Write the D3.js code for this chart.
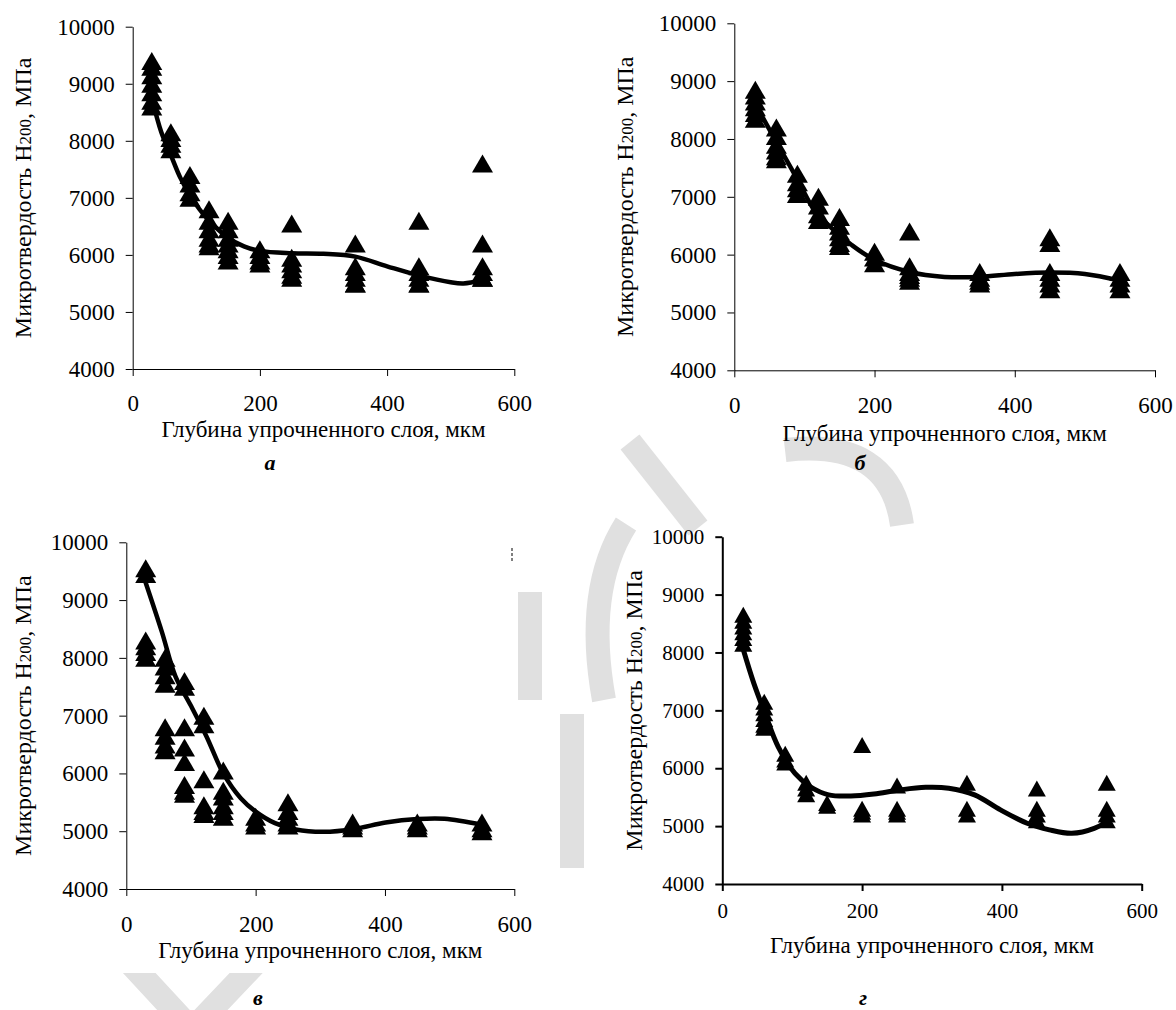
<!DOCTYPE html>
<html>
<head>
<meta charset="utf-8">
<script src="https://cdn.jsdelivr.net/npm/d3@7"></script>
<style>
  body { margin: 0; background: #fff; }
  svg { display: block; }
  text { font-family: "Liberation Serif", "Times New Roman", serif; fill: #000; }
</style>
</head>
<body>
<div id="chart"></div>
<script>
// depth of measurement, mkm
const depths = [30, 60, 90, 120, 150, 200, 250, 350, 450, 550];

// microhardness readings per depth, MPa (one list per depth)
const hardnessA = [
  [9400, 9300, 9150, 9000, 8850, 8700, 8600],
  [8150, 8050, 7950, 7850],
  [7400, 7250, 7100, 7000],
  [6800, 6600, 6450, 6300, 6200, 6150],
  [6600, 6450, 6300, 6200, 6100, 6000, 5900],
  [6100, 6000, 5900, 5850],
  [6550, 5950, 5850, 5750, 5650, 5600],
  [6200, 5800, 5700, 5600, 5500, 5500],
  [6600, 5800, 5700, 5600, 5500, 5500],
  [7600, 6200, 5800, 5700, 5600, 5600]
];
const hardnessB = [
  [8850, 8750, 8650, 8550, 8450, 8350],
  [8200, 8050, 7900, 7800, 7700, 7650],
  [7400, 7250, 7150, 7050],
  [7000, 6850, 6700, 6600],
  [6650, 6500, 6400, 6300, 6200, 6150],
  [6050, 5950, 5850],
  [6400, 5800, 5700, 5650, 5600, 5550],
  [5700, 5600, 5550, 5500],
  [6300, 6200, 5700, 5600, 5500, 5400],
  [5700, 5600, 5500, 5400]
];
const hardnessC = [
  [9550, 9450, 8300, 8200, 8100, 8000],
  [8000, 7850, 7700, 7550, 6800, 6650, 6500, 6400],
  [7600, 7500, 6800, 6450, 6200, 5800, 5700, 5650],
  [7000, 6850, 5900, 5450, 5350, 5300],
  [6050, 5700, 5600, 5450, 5350, 5250],
  [5250, 5150, 5100],
  [5500, 5350, 5250, 5150, 5100],
  [5150, 5100, 5050],
  [5150, 5100, 5050],
  [5150, 5050, 5000]
];
const hardnessD = [
  [8650, 8550, 8450, 8350, 8250, 8150],
  [7150, 7050, 6950, 6850, 6750, 6700],
  [6250, 6150, 6100],
  [5750, 5650, 5550],
  [5400, 5350],
  [6400, 5300, 5250, 5200],
  [5700, 5300, 5250, 5200],
  [5750, 5300, 5200],
  [5650, 5300, 5200, 5100],
  [5750, 5300, 5200, 5100]
];

// trend lines: [depth, MPa]
const trendA = [[30, 8750], [45, 8150], [60, 7750], [75, 7350], [90, 7050], [105, 6800], [120, 6600],
  [150, 6300], [175, 6150], [200, 6070], [250, 6030], [300, 6020], [350, 5970], [400, 5800],
  [450, 5640], [500, 5520], [520, 5500], [550, 5560]];
const trendB = [[30, 8600], [60, 7950], [90, 7300], [115, 6750], [135, 6500], [167, 6170], [200, 5910],
  [250, 5700], [300, 5615], [350, 5615], [400, 5665], [450, 5690], [500, 5665], [550, 5550]];
const trendC = [[30, 9300], [55, 8450], [76, 7680], [100, 7170], [124, 6640], [150, 6000], [177, 5570],
  [200, 5340], [230, 5140], [262, 5030], [305, 4990], [353, 5040], [401, 5150], [450, 5210],
  [492, 5215], [550, 5110]];
const trendD = [[30, 8050], [45, 7470], [61, 6950], [80, 6370], [104, 5910], [126, 5680], [152, 5540],
  [184, 5520], [217, 5555], [254, 5625], [291, 5670], [324, 5655], [361, 5540], [398, 5280],
  [436, 5050], [468, 4935], [500, 4875], [532, 4960], [550, 5080]];

const yTicks = [4000, 5000, 6000, 7000, 8000, 9000, 10000];
const xTicks = [0, 200, 400, 600];
const panelLetters = ["а", "б", "в", "г"];
const xTitle = "Глубина упрочненного слоя, мкм";

const W = 1176, H = 1010;
const SERIF = '"Liberation Serif", "Times New Roman", serif';
const svg = d3.select("#chart").append("svg")
  .attr("width", W)
  .attr("height", H);

// faint grey watermark of the scanned page, showing between the charts
const wm = svg.append("g")
  .attr("fill", "none")
  .attr("stroke", "#e0e0e0")
  .attr("stroke-width", 24);
wm.append("clipPath").attr("id", "wmclip")
  .append("rect").attr("x", 0).attr("y", 973).attr("width", 400).attr("height", 40);
wm.append("path")
  .attr("clip-path", "url(#wmclip)")
  .attr("d", "M118,950L192,1030L268,950");
wm.append("path").attr("d", "M630,442L698,528");
wm.append("path").attr("d", "M785,450Q890,438 902,525");
wm.append("path").attr("d", "M626,524Q584,590 604,700");
wm.append("path").attr("d", "M530,592L530,700");
wm.append("path").attr("d", "M572,714L572,868");
svg.append("path")
  .attr("d", "M512,548L512,562")
  .attr("stroke", "#555")
  .attr("stroke-width", 1.5)
  .attr("stroke-dasharray", "3,2");

// placement of each of the four sub-charts
const panels = [
  {values: hardnessA, trend: trendA, letter: panelLetters[0],
   left: 132.7, right: 514.3, top: 26.7, bottom: 369, yTitleX: 23, xPad: 19, xTitleY: 437,
   letterX: 270, letterY: 470, font: 23, triW: 21, triH: 18, lineW: 4.5, axisW: 1},
  {values: hardnessB, trend: trendB, letter: panelLetters[1],
   left: 734.3, right: 1155, top: 23.3, bottom: 370.3, yTitleX: 625, xPad: 19, xTitleY: 441,
   letterX: 860, letterY: 470, font: 23, triW: 21, triH: 18, lineW: 4.5, axisW: 1},
  {values: hardnessC, trend: trendC, letter: panelLetters[2],
   left: 126.3, right: 514.3, top: 542.3, bottom: 889, yTitleX: 23, xPad: 20, xTitleY: 958,
   letterX: 258, letterY: 1005, font: 23, triW: 21, triH: 18, lineW: 4.5, axisW: 1},
  {values: hardnessD, trend: trendD, letter: panelLetters[3],
   left: 722.3, right: 1141.7, top: 536.7, bottom: 884, yTitleX: 634, xPad: 12, xTitleY: 953,
   letterX: 863, letterY: 1005, font: 21, triW: 18, triH: 16, lineW: 5, axisW: 2}
];

const triangle = (w, h) => `M0,${-h / 2}L${w / 2},${h / 2}L${-w / 2},${h / 2}Z`;

panels.forEach(p => {
  const x = d3.scaleLinear().domain([0, 600]).range([p.left, p.right]);
  const y = d3.scaleLinear().domain([4000, 10000]).range([p.bottom, p.top]);
  const g = svg.append("g");

  const yAxis = g.append("g")
    .attr("transform", `translate(${p.left},0)`)
    .call(d3.axisLeft(y).tickValues(yTicks).tickFormat(d3.format("d"))
      .tickSize(7).tickPadding(11).tickSizeOuter(0));
  const xAxis = g.append("g")
    .attr("transform", `translate(0,${p.bottom})`)
    .call(d3.axisBottom(x).tickValues(xTicks).tickFormat(d3.format("d"))
      .tickSize(7).tickPadding(p.xPad).tickSizeOuter(0));

  [yAxis, xAxis].forEach(a => {
    a.attr("font-family", SERIF).attr("font-size", p.font);
    a.select(".domain").attr("stroke", "#000").attr("stroke-width", p.axisW);
    a.selectAll(".tick line").attr("stroke", "#000").attr("stroke-width", p.axisW);
    a.selectAll(".tick text").attr("fill", "#000");
  });

  const pts = [];
  depths.forEach((d, i) => p.values[i].forEach(v => pts.push([d, v])));

  g.selectAll("path.mark")
    .data(pts)
    .enter()
    .append("path")
    .attr("class", "mark")
    .attr("d", triangle(p.triW, p.triH))
    .attr("transform", d => `translate(${x(d[0])},${y(d[1])})`)
    .attr("fill", "#000");

  const line = d3.line()
    .x(d => x(d[0]))
    .y(d => y(d[1]))
    .curve(d3.curveCatmullRom.alpha(0.5));

  g.append("path")
    .datum(p.trend)
    .attr("d", line)
    .attr("fill", "none")
    .attr("stroke", "#000")
    .attr("stroke-width", p.lineW)
    .attr("stroke-linecap", "round");

  const midY = (p.top + p.bottom) / 2;
  const yt = g.append("text")
    .attr("transform", `translate(${p.yTitleX},${midY}) rotate(-90)`)
    .attr("text-anchor", "middle")
    .attr("dy", "0.35em")
    .attr("font-family", SERIF)
    .attr("font-size", 24);
  yt.append("tspan").text("Микротвердость Н");
  yt.append("tspan").attr("font-size", 17).text("200");
  yt.append("tspan").text(", МПа");

  g.append("text")
    .attr("x", (p.left + p.right) / 2)
    .attr("y", p.xTitleY)
    .attr("text-anchor", "middle")
    .attr("font-family", SERIF)
    .attr("font-size", 23)
    .text(xTitle);

  g.append("text")
    .attr("x", p.letterX)
    .attr("y", p.letterY)
    .attr("text-anchor", "middle")
    .attr("font-family", SERIF)
    .attr("font-size", 22)
    .attr("font-weight", "bold")
    .attr("font-style", "italic")
    .text(p.letter);
});
</script>
</body>
</html>
